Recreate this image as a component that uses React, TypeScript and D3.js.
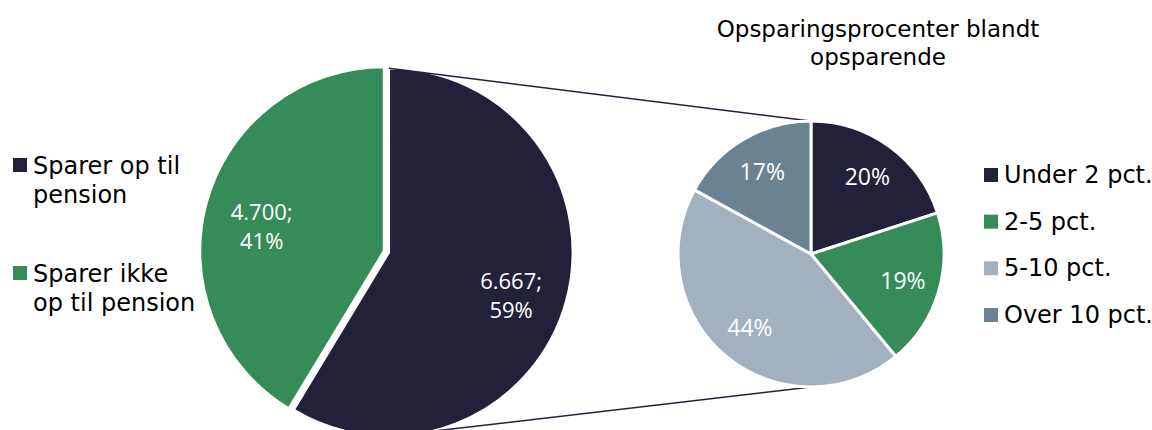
import * as React from 'react';
import { useEffect, useRef } from 'react';
import * as d3 from 'd3';

// Data
const mainLabels = ['Sparer op til pension', 'Sparer ikke op til pension'];
const mainLegendLines = [['Sparer op til', 'pension'], ['Sparer ikke', 'op til pension']];
const mainValues = [6667, 4700];
const mainColors = ['#23213a', '#358c58'];

const subLabels = ['Under 2 pct.', '2-5 pct.', '5-10 pct.', 'Over 10 pct.'];
const subValues = [20, 19, 44, 17];
const subColors = ['#23213a', '#358c58', '#a3b0bd', '#6a8393'];

const subTitle = ['Opsparingsprocenter blandt', 'opsparende'];

const W = 1152;
const H = 430;

const labelFont = '"Open Sans", sans-serif';
const textFont = '"DejaVu Sans", sans-serif';

const App: React.FC = () => {
  const svgRef = useRef<SVGSVGElement>(null);

  useEffect(() => {
    const svg = d3.select(svgRef.current);
    svg.selectAll('*').remove();

    const dk = d3.formatLocale({ decimal: ',', thousands: '.', grouping: [3], currency: ['', ' kr'] });
    const fmt = dk.format(',d');

    // Big pie
    const big = { cx: 384, cy: 251, r: 184, explode: 5 };
    const pie = d3.pie<number>().sort(null).value(d => d);
    const bigArcs = pie(mainValues);
    const bigTotal = d3.sum(mainValues);
    const bigArc = d3.arc<d3.PieArcDatum<number>>().innerRadius(0).outerRadius(big.r);
    const bigLabelArc = d3.arc<d3.PieArcDatum<number>>().innerRadius(big.r * 0.69).outerRadius(big.r * 0.69);

    const offsetOf = (a: d3.PieArcDatum<number>, i: number) => {
      if (i !== 0) return [0, 0];
      const mid = (a.startAngle + a.endAngle) / 2;
      return [Math.sin(mid) * big.explode, -Math.cos(mid) * big.explode];
    };

    const gBig = svg.append('g').attr('transform', `translate(${big.cx},${big.cy})`);
    const bigSlices = gBig.selectAll('g.slice')
      .data(bigArcs)
      .enter().append('g')
      .attr('transform', (d, i) => `translate(${offsetOf(d, i).join(',')})`);

    bigSlices.append('path')
      .attr('d', bigArc)
      .attr('fill', (_, i) => mainColors[i])
      .attr('stroke', '#fff')
      .attr('stroke-width', 2.5);

    const bigText = bigSlices.append('text')
      .attr('transform', d => `translate(${bigLabelArc.centroid(d).join(',')})`)
      .attr('text-anchor', 'middle')
      .attr('fill', '#fff')
      .attr('font-family', labelFont)
      .attr('font-size', 22);
    bigText.append('tspan').attr('x', 0).attr('y', 3).text(d => `${fmt(d.value)};`);
    bigText.append('tspan').attr('x', 0).attr('y', 32).text(d => `${Math.round((d.value / bigTotal) * 100)}%`);

    // Small pie
    const small = { cx: 811, cy: 254, r: 133 };
    const subArcs = pie(subValues);
    const subTotal = d3.sum(subValues);
    const smallArc = d3.arc<d3.PieArcDatum<number>>().innerRadius(0).outerRadius(small.r);
    const smallLabelArc = d3.arc<d3.PieArcDatum<number>>().innerRadius(small.r * 0.72).outerRadius(small.r * 0.72);

    // connector lines from the split slice to the second pie
    const off = offsetOf(bigArcs[0], 0);
    const conn = [
      [[big.cx + off[0], big.cy + off[1] - big.r], [small.cx, small.cy - small.r]],
      [[big.cx + off[0], big.cy + off[1] + big.r], [small.cx, small.cy + small.r]],
    ];
    svg.append('g').selectAll('line')
      .data(conn)
      .enter().append('line')
      .attr('x1', d => d[0][0]).attr('y1', d => d[0][1])
      .attr('x2', d => d[1][0]).attr('y2', d => d[1][1])
      .attr('stroke', '#23213a')
      .attr('stroke-width', 1.5);

    const gSmall = svg.append('g').attr('transform', `translate(${small.cx},${small.cy})`);
    gSmall.selectAll('path')
      .data(subArcs)
      .enter().append('path')
      .attr('d', smallArc)
      .attr('fill', (_, i) => subColors[i])
      .attr('stroke', '#fff')
      .attr('stroke-width', 3);

    gSmall.selectAll('text')
      .data(subArcs)
      .enter().append('text')
      .attr('transform', d => `translate(${smallLabelArc.centroid(d).join(',')})`)
      .attr('text-anchor', 'middle')
      .attr('dy', '0.36em')
      .attr('fill', '#fff')
      .attr('font-family', labelFont)
      .attr('font-size', 23)
      .text(d => `${Math.round((d.value / subTotal) * 100)}%`);

    // Title of the second pie
    svg.append('text')
      .attr('x', 878)
      .attr('text-anchor', 'middle')
      .attr('font-family', textFont)
      .attr('font-size', 23)
      .attr('fill', '#000')
      .selectAll('tspan')
      .data(subTitle)
      .enter().append('tspan')
      .attr('x', 878)
      .attr('y', (_, i) => 37 + i * 28)
      .text(d => d);

    // Left legend
    const leftY = d3.scalePoint<string>().domain(mainLabels).range([165, 273]);
    const leftLeg = svg.append('g')
      .selectAll('g')
      .data(mainLabels)
      .enter().append('g')
      .attr('transform', d => `translate(13,${leftY(d)})`);
    leftLeg.append('rect')
      .attr('x', 0).attr('y', -7).attr('width', 14).attr('height', 14)
      .attr('fill', (_, i) => mainColors[i]);
    leftLeg.append('text')
      .attr('font-family', textFont)
      .attr('font-size', 24)
      .attr('fill', '#000')
      .selectAll('tspan')
      .data((_, i) => mainLegendLines[i])
      .enter().append('tspan')
      .attr('x', 20)
      .attr('y', (_, j) => 9 + j * 29)
      .text(d => d);

    // Right legend
    const rightY = d3.scalePoint<string>().domain(subLabels).range([175, 315]);
    const rightLeg = svg.append('g')
      .selectAll('g')
      .data(subLabels)
      .enter().append('g')
      .attr('transform', d => `translate(984,${rightY(d)})`);
    rightLeg.append('rect')
      .attr('x', 0).attr('y', -7).attr('width', 14).attr('height', 14)
      .attr('fill', (_, i) => subColors[i]);
    rightLeg.append('text')
      .attr('x', 20)
      .attr('y', 8)
      .attr('font-family', textFont)
      .attr('font-size', 24)
      .attr('fill', '#000')
      .text(d => d);
  }, []);

  return (
    <svg ref={svgRef} width={W} height={H} style={{ position: 'absolute', left: 0, top: 0, background: '#fff' }}></svg>
  );
};

export default App;
